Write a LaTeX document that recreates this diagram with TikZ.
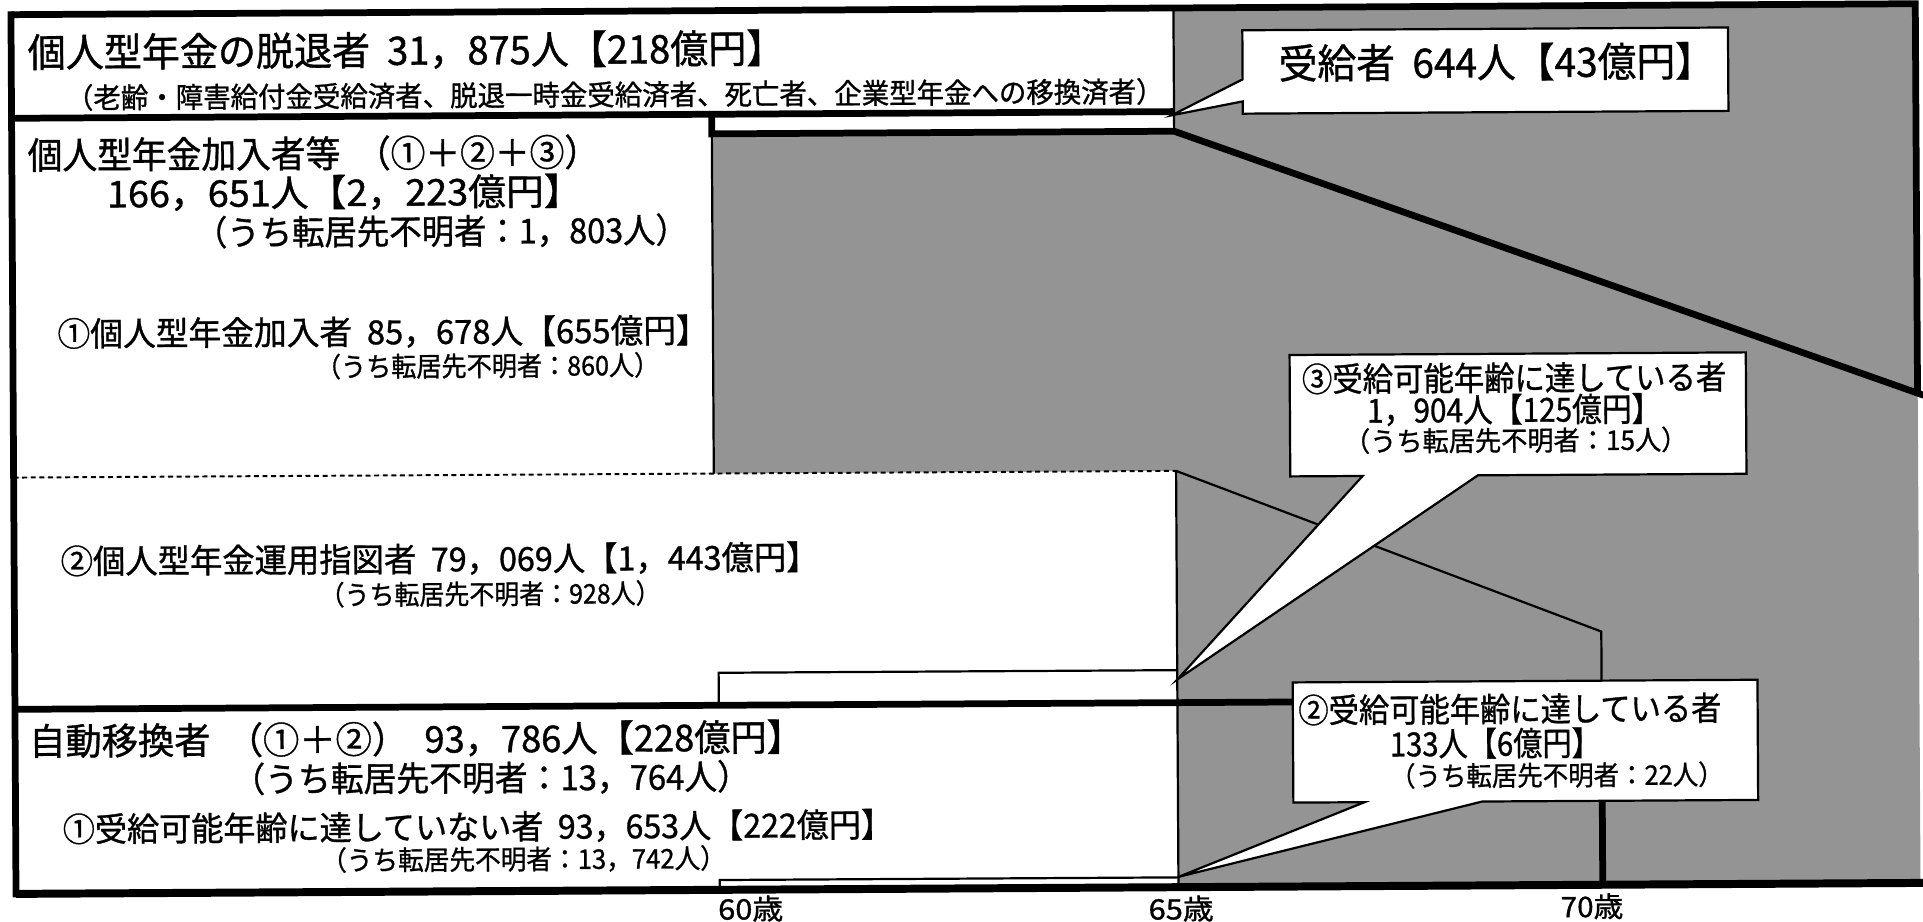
\documentclass[tikz,border=0pt]{standalone}
\usepackage{graphicx}
\usepackage{fontspec}
\setmainfont{Noto Sans CJK JP}[FakeBold=1]
\newcommand\fsz[1]{\fontsize{#1}{#1}\selectfont}
\newcommand\tw[2]{\resizebox{#1pt}{\height}{#2}}
\newcommand\gp{\hspace{0.45em}}
\tikzset{
  stip/.style={fill=black!42},
  thk/.style={line width=5.5pt},
  thn/.style={line width=1.8pt},
  dsh/.style={line width=1.6pt, dash pattern=on 4pt off 3pt},
  callout/.style={fill=white, draw=black, line width=1.8pt, line join=miter},
  txt/.style={inner sep=0pt, outer sep=0pt, anchor=center},
  s33/.style={txt, font=\fsz{33}},
  s32/.style={txt, font=\fsz{32}},
  s30/.style={txt, font=\fsz{30}},
  s28/.style={txt, font=\fsz{28}},
  s27/.style={txt, font=\fsz{27}},
  s23/.style={txt, font=\fsz{23}},
  s22/.style={txt, font=\fsz{22}}
}
\begin{document}
\begin{tikzpicture}[x=1pt,y=-1pt]
\useasboundingbox (0,0) rectangle (1568,751);
\fill[white] (0,0) rectangle (1568,751);
\begin{scope}[rotate around={0.33:(784,375)}, transform shape]
% background areas
\fill[stip] (11,7.5) rectangle (1564,724.5);
\fill[white] (11,7.5) rectangle (959,92);
\fill[white] (11,92) rectangle (582,385);
\fill[white] (582,92) rectangle (959,108);
\fill[white] (11,385) rectangle (959,724.5);
% named corner coordinates
\coordinate (TL) at (11,7.5);
\coordinate (TR) at (1564,7.5);
\coordinate (BL) at (11,724.5);
\coordinate (BR) at (1575,724.5);
\coordinate (DR) at (1564,326.5);
\coordinate (DE) at (1572,327.9);
\coordinate (B1) at (11,92);
\coordinate (B2) at (959,92);
\coordinate (P1) at (582,92);
\coordinate (P2) at (582,108);
\coordinate (P3) at (959,108);
\coordinate (Q1) at (582,385);
\coordinate (D1) at (11,385);
\coordinate (D2) at (959,385);
\coordinate (K1) at (1305,518);
\coordinate (K2) at (1305,574);
\coordinate (M1) at (11,574);
\coordinate (M2) at (1305,724.5);
\coordinate (V2) at (959,724.5);
\coordinate (R1) at (585,574);
\coordinate (R2) at (585,547.5);
\coordinate (R3) at (959,547.5);
\coordinate (S1) at (585,724.5);
\coordinate (S2) at (585,716.5);
\coordinate (S3) at (959,716.5);
% thin lines
\draw[thn] (TR -| B2) -- (B2) -- (P3);
\draw[thn] (P2) -- (Q1);
\draw[dsh] (D1) -- (D2);
\draw[thn] (D2) -- (V2);
\draw[thn] (D2) -- (K1) -- (K2);
\draw[thn] (R1) -- (R2) -- (R3);
\draw[thn] (S1) -- (S2) -- (S3);
% thick lines
\draw[thk] (TL) -- (TR) -- (DR);
\draw[thk, line cap=rect] (TL) -- (BL);
\draw[line width=6.5pt] (BL) -- (BR);
\draw[thk] (B1) -- (B2);
\draw[thk, line join=miter] (P1) -- (P2) -- (P3) -- (DE);
\draw[thk, line join=miter] (M1) -- (K2) -- (M2);
% callouts
\draw[callout] (1015,26) -- (1411,26) -- (1411,94) -- (1015,94) -- (1015,84) -- (957,95) -- (1015,66) -- cycle;
\draw[callout] (1052,291) -- (1424,291) -- (1424,390) -- (1205,390) -- (959,555) -- (1111,390) -- (1052,390) -- cycle;
\draw[callout] (1053,558) -- (1432,558) -- (1432,656) -- (1207,656) -- (959,716) -- (1111,656) -- (1053,656) -- cycle;
% texts
\node[s32] (t1) at (333,38.4) {\tw{617}{個人型年金の脱退者\gp 31，875人【218億円】}};
\node[s23] (t2) at (503,75.4) {\tw{895}{（老齢・障害給付金受給済者、脱退一時金受給済者、死亡者、企業型年金への移換済者）}};
\node[s30] (t3) at (257,122) {\tw{466}{個人型年金加入者等\gp（①＋②＋③）}};
\node[s30] (t4) at (282,154) {\tw{387}{166，651人【2，223億円】}};
\node[s28] (t5) at (361,186) {\tw{402}{（うち転居先不明者：1，803人）}};
\node[s27] (t6) at (313,268) {\tw{531}{①個人型年金加入者\gp 85，678人【655億円】}};
\node[s22] (t7) at (398,296) {\tw{280}{（うち転居先不明者：860人）}};
\node[s27] (t8) at (358,453.5) {\tw{618}{②個人型年金運用指図者\gp 79，069人【1，443億円】}};
\node[s22] (t9) at (399,482) {\tw{278}{（うち転居先不明者：928人）}};
\node[s30] (t10) at (338,600) {\tw{631}{自動移換者\gp（①＋②）\gp 93，786人【228億円】}};
\node[s28] (t11) at (399,632) {\tw{422}{（うち転居先不明者：13，764人）}};
\node[s27] (t12) at (388,672) {\tw{677}{①受給可能年齢に達していない者\gp 93，653人【222億円】}};
\node[s22] (t13) at (425,698.5) {\tw{330}{（うち転居先不明者：13，742人）}};
\node[s33] (c1) at (1222,53) {\tw{355}{受給者\gp 644人【43億円】}};
\node[s27] (c3a) at (1235,310.6) {\tw{346}{③受給可能年齢に達している者}};
\node[s27] (c3b) at (1235,336.6) {\tw{240}{1，904人【125億円】}};
\node[s22] (c3c) at (1236,361.6) {\tw{280}{（うち転居先不明者：15人）}};
\node[s27] (c2a) at (1230,580.6) {\tw{345}{②受給可能年齢に達している者}};
\node[s27] (c2b) at (1218,608.5) {\tw{172}{133人【6億円】}};
\node[s22] (c2c) at (1268,634.8) {\tw{272}{（うち転居先不明者：22人）}};
\node[s23] (a60) at (610,740) {\tw{53}{60歳}};
\node[s23] (a65) at (961,742) {\tw{53}{65歳}};
\node[s23] (a70) at (1296,742) {\tw{51}{70歳}};
\end{scope}
\end{tikzpicture}
\end{document}
